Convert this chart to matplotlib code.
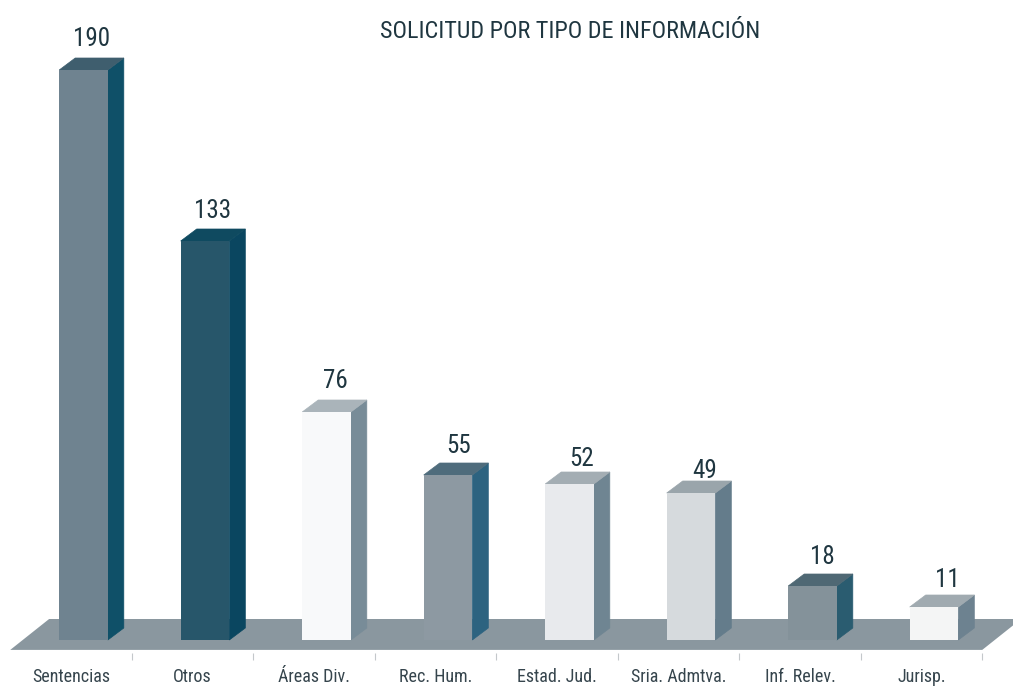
import numpy as np
import matplotlib
matplotlib.use("Agg")
import matplotlib.pyplot as plt
from matplotlib import font_manager as fm
from matplotlib.patches import Polygon

title = "SOLICITUD POR TIPO DE INFORMACIÓN"
categories = ["Sentencias", "Otros", "Áreas Div.", "Rec. Hum.",
              "Estad. Jud.", "Sria. Admtva.", "Inf. Relev.", "Jurisp."]
values = [190, 133, 76, 55, 52, 49, 18, 11]

# colours per bar
front_colors = ["#6f8390", "#27566a", "#f8f9fa", "#8d99a2",
                "#e8eaed", "#d6dadd", "#84929a", "#f4f5f5"]
side_colors = ["#0f5068", "#0a4660", "#788c98", "#2d6380",
               "#6f8592", "#647c8b", "#2a5c70", "#6d8290"]
top_colors = ["#3f5e6e", "#0f4a60", "#aab4ba", "#4f6c7c",
              "#a3adb3", "#9aa5ab", "#4f6874", "#a0aab0"]
floor_color = "#8a979f"

# label nudges, in data units
label_dx = [0.07, 0.06, 0.07, 0.09, 0.10, 0.11, 0.08, 0.11]
label_dy = [10.4, 10.0, 10.4, 9.7, 8.4, 7.4, 9.7, 9.0]

# narrow face if there is one, else plain Liberation
have = {f.name for f in fm.fontManager.ttflist}
wanted = ["Roboto Condensed", "Archivo Narrow", "Liberation Sans Narrow", "Liberation Sans", "DejaVu Sans"]
plt.rcParams["font.family"] = [n for n in wanted if n in have]

W, H = 1013, 686
fig = plt.figure(figsize=(W / 100, H / 100), dpi=100)
ax = fig.add_axes([0, (H - 653) / H, 1, 653 / H])

# one category = 121.5 px, one unit = 3 px
ax.set_xlim((0 - 71) / 121.5, (W - 71) / 121.5)
ax.set_ylim(-13 / 3, 640 / 3)

bar_w = 0.40
bar_off = 0.103
dx = 16 / 121.5
dy = 4.0

# floor
ax.add_patch(Polygon([(-0.5, -3.3), (7.5, -3.3), (7.82, 7.0), (-0.18, 7.0)],
                     facecolor=floor_color, edgecolor="none", zorder=1))

x = np.arange(len(values)) + bar_off

for i, v in enumerate(values):
    left = x[i] - bar_w / 2
    right = x[i] + bar_w / 2
    ax.add_patch(Polygon([(right, 0), (right + dx, dy), (right + dx, v + dy), (right, v)],
                         facecolor=side_colors[i], edgecolor=side_colors[i], linewidth=0.5, zorder=2))
    ax.add_patch(Polygon([(left, v), (left + dx, v + dy), (right + dx, v + dy), (right, v)],
                         facecolor=top_colors[i], edgecolor=top_colors[i], linewidth=0.5, zorder=2))
    ax.text(x[i] + label_dx[i], v + label_dy[i], str(v), ha="center", va="center",
            fontsize=18, color="#1f3640")

ax.bar(x, values, width=bar_w, color=front_colors, zorder=3)

ax.set_xticks(np.arange(len(values)) + 0.5)
ax.set_xticklabels([])
ax.set_xticks(np.arange(len(values)), labels=categories, minor=True)
ax.tick_params(axis="x", which="major", length=5, width=0.8, color="#c4c8cb")
ax.tick_params(axis="x", which="minor", length=0, pad=10.5, labelsize=13, labelcolor="#36454d")
ax.set_yticks([])
for s in ax.spines.values():
    s.set_visible(False)

ax.text(570 / W, 1 - 32 / 653, title, transform=ax.transAxes, ha="center", va="center",
        fontsize=17.4, color="#1f3640")

fig.savefig("out.png", dpi=100)
